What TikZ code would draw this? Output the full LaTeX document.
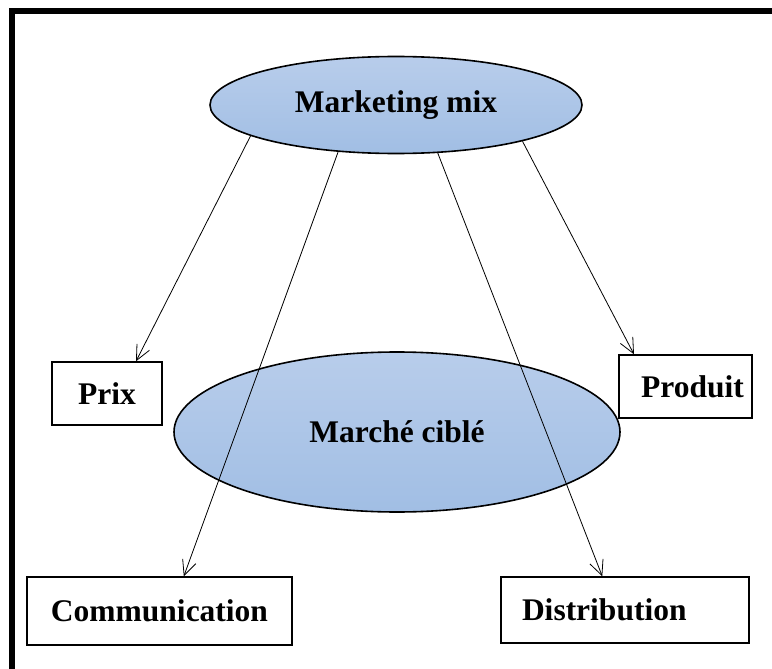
\documentclass[tikz,border=0pt]{standalone}
\usepackage{fontspec}
\setmainfont{Liberation Serif}
\usetikzlibrary{shapes.geometric,arrows.meta}
\definecolor{blueTop}{RGB}{184,205,235}
\definecolor{blueBot}{RGB}{161,190,228}

\begin{document}
\begin{tikzpicture}
[x=1pt,y=-1pt,
 oval/.style={ellipse,draw,line width=1.6pt,top color=blueTop,bottom color=blueBot,inner sep=0pt},
 box/.style={rectangle,draw,line width=1.4pt,inner sep=0pt},
 arr/.style={line width=0.8pt,-{Straight Barb[length=15pt,width=14pt]}},
 font=\fontsize{31.5}{36}\selectfont\bfseries]
\useasboundingbox (0,0) rectangle (772,669);
\draw[line width=6pt] (11.5,669) -- (11.5,11.5) -- (772,11.5);
\node[oval,minimum width=446,minimum height=160] (mc) at (397,432) {Marché ciblé};
\node[oval,minimum width=372,minimum height=97] (mm) at (396,105) {Marketing mix};
\node[box,minimum width=110,minimum height=63] (prix) at (107,393.5) {Prix};
\node[box,minimum width=133,minimum height=63] (prod) at (685.5,386.5) {\hspace{14pt}Produit};
\node[box,minimum width=265,minimum height=68] (comm) at (159.5,611) {Communication};
\node[box,minimum width=248,minimum height=66,text width=206,align=left,inner xsep=21] (dist) at (625,610) {Distribution};
\draw[arr] (mm.192) -- (prix.48);
\draw[arr] (mm.219) -- (comm.55);
\draw[arr] (mm.311) -- (dist.124);
\draw[arr] (mm.344) -- (prod.148);
\end{tikzpicture}
\end{document}
